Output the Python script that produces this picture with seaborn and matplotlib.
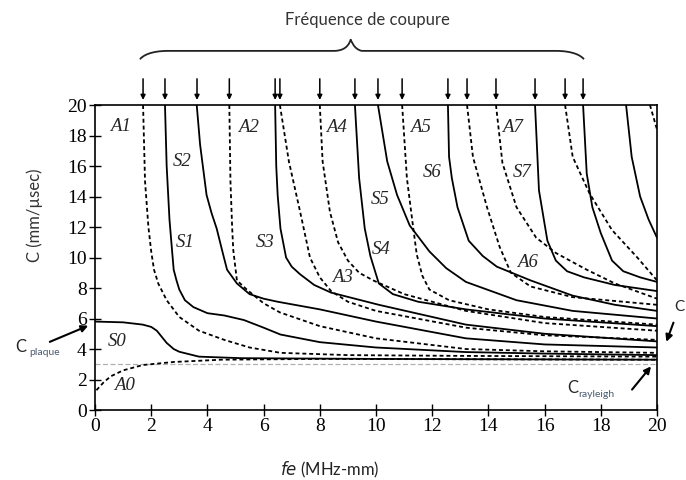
import matplotlib
matplotlib.use("Agg")
import numpy as np
import pandas as pd
import matplotlib.pyplot as plt
import seaborn as sns
from matplotlib.path import Path
from matplotlib.patches import PathPatch

# Dispersion curves: (fe in MHz-mm, C in mm/usec)
S0 = [(0, 5.8), (1.0, 5.75), (1.7, 5.6), (2.0, 5.45), (2.2, 5.2), (2.55, 4.4), (2.8, 4.0),
      (3.0, 3.82), (3.7, 3.5), (5.2, 3.4), (10, 3.35), (20, 3.3)]
A0 = [(0.05, 1.3), (0.3, 1.8), (0.55, 2.2), (1.0, 2.6), (1.7, 2.95), (2.8, 3.15), (4.5, 3.3),
      (8, 3.35), (20, 3.3)]
A1 = [(1.71, 20), (1.78, 15), (1.9, 12), (2.0, 10.4), (2.1, 9.2), (2.25, 8.3), (2.55, 7.2),
      (3.0, 6.1), (3.7, 5.2), (4.6, 4.6), (5.5, 4.1), (6.6, 3.75), (9, 3.6), (13, 3.55), (20, 3.5)]
S1 = [(2.49, 20), (2.55, 16), (2.65, 12.5), (2.74, 10.5), (2.8, 9.2), (2.9, 8.5), (3.0, 7.9),
      (3.2, 7.2), (3.5, 6.75), (4.0, 6.35), (4.6, 6.2), (5.3, 5.9), (6.0, 5.4), (6.6, 4.95),
      (8, 4.45), (10, 4.1), (13.2, 3.8), (16, 3.7), (20, 3.6)]
S2 = [(3.62, 20), (3.74, 17.4), (3.97, 14.1), (4.15, 12.9), (4.33, 11.9), (4.56, 10.2),
      (4.7, 9.2), (5.05, 8.3), (5.5, 7.6), (6.0, 7.3), (6.5, 7.1), (8, 6.6), (10, 5.8),
      (13.2, 4.7), (16, 4.3), (20, 4.1)]
A2 = [(4.78, 20), (4.82, 15), (4.88, 12), (4.92, 10.5), (5.05, 8.5), (5.4, 7.9), (6.0, 7.0),
      (6.58, 6.4), (8, 5.5), (10, 4.7), (13.2, 4.0), (16, 3.85), (20, 3.75)]
S3 = [(6.41, 20), (6.45, 16), (6.5, 14.1), (6.6, 11.9), (6.8, 10), (7.0, 9.4), (7.3, 8.9),
      (7.8, 8.2), (8.4, 7.7), (10.1, 6.9), (13.2, 5.6), (16, 5.0), (20, 4.5)]
A3 = [(6.58, 20), (6.9, 16.3), (7.3, 13), (7.65, 10), (8.0, 8.7), (8.4, 7.8), (9.0, 7.1),
      (10, 6.5), (13.2, 5.4), (16, 4.9), (20, 4.6)]
A4 = [(8.0, 20), (8.1, 16.3), (8.36, 13), (8.65, 11), (9.0, 9.8), (9.4, 9.0), (9.9, 8.5),
      (11, 7.6), (13.2, 6.5), (16, 5.7), (20, 5.2)]
S4 = [(9.25, 20), (9.4, 15.2), (9.6, 11.9), (9.8, 10.1), (10.1, 8.3), (10.6, 7.6), (11.5, 7.1),
      (13.2, 6.6), (16, 6.0), (20, 5.5)]
S5 = [(10.07, 20), (10.4, 16.3), (10.75, 14.1), (11.2, 12.1), (11.9, 10.4), (12.5, 9.3),
      (13.2, 8.4), (15, 7.2), (17, 6.5), (20, 6.0)]
A5 = [(10.93, 20), (11.1, 15.2), (11.3, 12.3), (11.45, 10.2), (11.65, 8.8), (11.9, 7.9),
      (12.6, 7.2), (14, 6.6), (16, 6.1), (20, 5.6)]
S6 = [(12.56, 20), (12.6, 16.6), (12.7, 15.2), (12.9, 13.3), (13.3, 11.1), (13.8, 10.1),
      (14.3, 9.4), (15.5, 8.5), (17, 7.5), (18.5, 6.9), (20, 6.5)]
A6 = [(13.24, 20), (13.45, 16.6), (13.95, 13.3), (14.4, 10.7), (14.8, 9.0), (15.5, 8.1),
      (17, 7.4), (20, 6.9)]
A7 = [(14.27, 20), (14.5, 16.2), (15.0, 13.3), (15.7, 11.3), (16.4, 10.3), (17.5, 9.2),
      (18.5, 8.3), (20, 7.3)]
S7 = [(15.66, 20), (15.8, 14.4), (16.1, 11.1), (16.4, 9.8), (16.8, 9.1), (17.4, 8.7),
      (18.5, 8.2), (20, 7.8)]
A8 = [(16.73, 20), (17.0, 16.6), (17.6, 14.2), (18.4, 11.8), (19.3, 10.0), (20, 8.5)]
S8 = [(17.37, 20), (17.5, 15.5), (17.7, 13.3), (18.0, 11.6), (18.4, 9.8), (18.8, 9.1),
      (19.4, 8.7), (20, 8.4)]
S9 = [(18.9, 20), (19.1, 16.6), (19.4, 14.0), (19.7, 12.5), (20, 11.3)]
A9 = [(19.75, 20), (20, 18.4)]

# cut-off frequencies marked by arrows above the plot
cutoffs = [1.71, 2.49, 3.63, 4.78, 6.41, 6.58, 8.0, 9.25, 10.07, 10.93,
           12.56, 13.24, 14.27, 15.66, 16.73, 17.37]

modes = {"S0": S0, "A0": A0, "A1": A1, "S1": S1, "S2": S2, "A2": A2, "S3": S3, "A3": A3,
         "A4": A4, "S4": S4, "S5": S5, "A5": A5, "S6": S6, "A6": A6, "A7": A7, "S7": S7,
         "A8": A8, "S8": S8, "S9": S9, "A9": A9}

rows = []
for name, pts in modes.items():
    for x, y in pts:
        rows.append({"mode": name, "kind": name[0], "x": x, "y": y})
df = pd.DataFrame(rows)

sns.set_style("ticks")
plt.rcParams["font.family"] = ["Liberation Serif", "DejaVu Serif"]

fig = plt.figure(figsize=(6.86, 4.80), dpi=100)
ax = fig.add_axes([0.1385, 0.1458, 0.8192, 0.6354])

sns.lineplot(data=df, x="x", y="y", units="mode", estimator=None, style="kind",
             dashes={"S": "", "A": (2.2, 1.6)}, color="black", linewidth=1.3,
             legend=False, sort=False, ax=ax, solid_joinstyle="round", dash_joinstyle="round")

# Rayleigh velocity reference line
ax.axhline(3.05, color="#b0b0b0", lw=0.9, ls=(0, (4, 2)), zorder=0)

ax.set_xlim(0, 20)
ax.set_ylim(0, 20)
ax.set_xticks(np.arange(0, 21, 2))
ax.set_yticks(np.arange(0, 21, 2))
ax.tick_params(direction="inout", length=8, width=1, labelsize=14, colors="black", pad=2)
for s in ax.spines.values():
    s.set_linewidth(1.2)
    s.set_color("black")

ax.set_xlabel(r"$\it{fe}$ (MHz-mm)", fontsize=12, family=["Lato", "DejaVu Sans"], color="#222222")
ax.set_ylabel("C (mm/µsec)", fontsize=12, family=["Lato", "DejaVu Sans"], color="#333333")
ax.xaxis.set_label_coords(0.418, -0.165)
ax.yaxis.set_label_coords(-0.092, 0.64)

# mode labels
for txt, x, y in [("A1", 0.9, 18.6), ("S2", 3.1, 16.3), ("A2", 5.45, 18.5), ("A4", 8.6, 18.5),
                  ("A5", 11.6, 18.5), ("A7", 14.85, 18.5), ("S6", 12.0, 15.6), ("S7", 15.2, 15.6),
                  ("S5", 10.15, 13.8), ("S1", 3.2, 11.0), ("S3", 6.05, 11.0), ("S4", 10.2, 10.5),
                  ("A3", 8.8, 8.7), ("A6", 15.4, 9.7), ("S0", 0.8, 4.5), ("A0", 1.05, 1.6)]:
    ax.text(x, y, txt, style="italic", fontsize=13.5, ha="center", va="center")

# arrows for cut-off frequencies
for c in cutoffs:
    ax.annotate("", xy=(c, 20.15), xytext=(c, 21.9), annotation_clip=False,
                arrowprops=dict(arrowstyle="-|>", color="black", lw=1.1, mutation_scale=7))

# curly brace
x0, x1, xm = 1.6, 17.4, 9.1
yb, ye, yp = 23.55, 23.0, 24.3
verts = [(x0, ye), (x0 + 0.1, yb - 0.3), (x0 + 0.4, yb), (x0 + 1.0, yb),
         (xm - 0.6, yb), (xm - 0.4, yb), (xm - 0.1, yb + 0.1),
         (xm, yp), (xm, yp),
         (xm, yp), (xm + 0.1, yb + 0.1), (xm + 0.4, yb),
         (x1 - 1.0, yb), (x1 - 0.4, yb), (x1 - 0.1, yb - 0.3), (x1, ye)]
codes = [Path.MOVETO] + [Path.CURVE4] * 3 + [Path.LINETO] + [Path.CURVE4] * 3 + [Path.LINETO] \
        + [Path.CURVE4] * 3 + [Path.LINETO] + [Path.CURVE4] * 3
brace = PathPatch(Path(verts, codes), facecolor="none", edgecolor="#222222", lw=1.3, clip_on=False)
ax.add_patch(brace)
ax.text(9.7, 25.6, "Fréquence de coupure", fontsize=12, ha="center", va="center",
        family=["Lato", "DejaVu Sans"], color="#333333", clip_on=False)

# velocity annotations
sans = ["Lato", "DejaVu Sans"]
ax.annotate("", xy=(-0.15, 5.6), xytext=(-1.7, 4.4), annotation_clip=False,
            arrowprops=dict(arrowstyle="-|>", color="black", lw=1.5, mutation_scale=10))
ax.text(-2.85, 4.1, "C", fontsize=12, family=sans, ha="left", va="center", clip_on=False)
ax.text(-2.35, 3.75, "plaque", fontsize=7.5, family=sans, color="#4a5a70", ha="left",
        va="center", clip_on=False)

ax.annotate("", xy=(19.85, 3.0), xytext=(19.05, 1.2), annotation_clip=False,
            arrowprops=dict(arrowstyle="-|>", color="black", lw=1.5, mutation_scale=10))
ax.text(16.8, 1.45, "C", fontsize=12, family=sans, ha="left", va="center", clip_on=False)
ax.text(17.2, 1.05, "rayleigh", fontsize=7.5, family=sans, color="#4a5a70", ha="left",
        va="center", clip_on=False)

ax.annotate("", xy=(20.3, 4.3), xytext=(20.62, 5.9), annotation_clip=False,
            arrowprops=dict(arrowstyle="-|>", color="black", lw=1.5, mutation_scale=10))
ax.text(20.62, 6.75, "C", fontsize=11, family=sans, ha="left", va="center", clip_on=False)

fig.savefig("out.png", dpi=100)
